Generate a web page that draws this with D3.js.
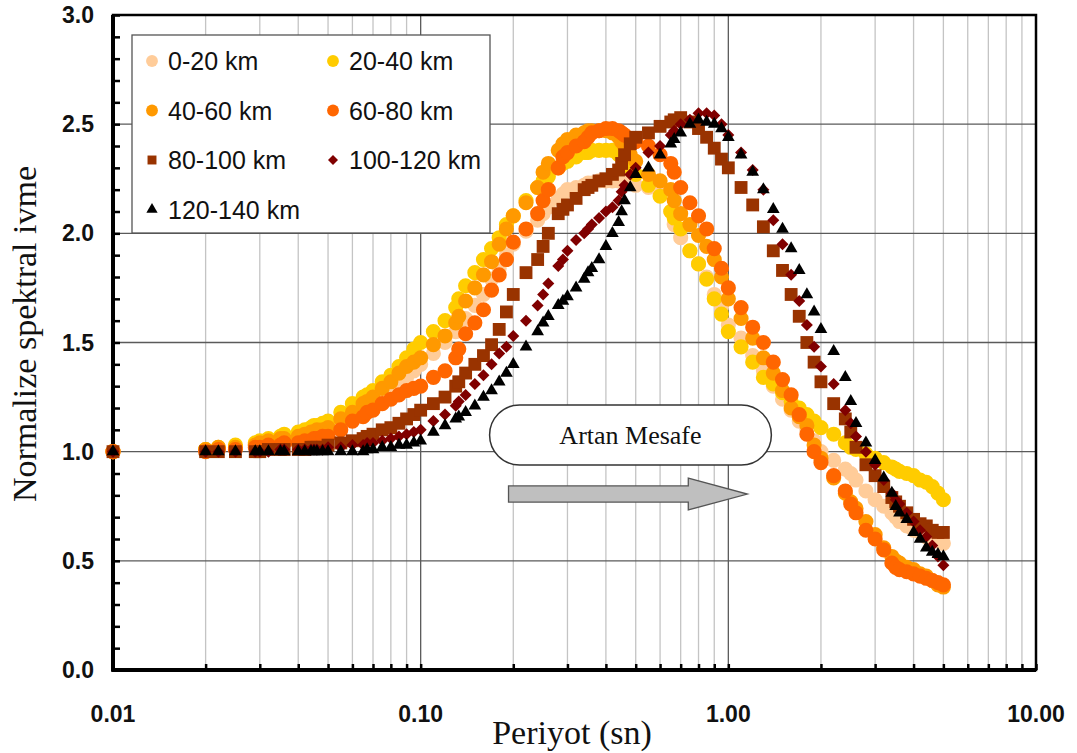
<!DOCTYPE html>
<html>
<head>
<meta charset="utf-8">
<title>Normalize spektral ivme</title>
<script src="https://cdn.jsdelivr.net/npm/d3@7"></script>
<style>
  body { margin: 0; background: #fff; }
  svg { display: block; }
</style>
</head>
<body>
<svg width="1077" height="753"></svg>
<script>
// periods (s)
const periods = [0.01,0.02,0.022,0.025,0.029,0.03,0.032,0.035,0.036,0.04,
  0.042,0.044,0.045,0.046,0.048,0.05,0.055,0.06,0.065,0.067,
  0.07,0.075,0.08,0.085,0.09,0.095,0.1,0.11,0.12,0.13,
  0.133,0.14,0.15,0.16,0.17,0.18,0.19,0.2,0.22,0.24,
  0.25,0.26,0.28,0.29,0.3,0.32,0.34,0.35,0.36,0.38,
  0.4,0.42,0.44,0.45,0.46,0.48,0.5,0.55,0.6,0.65,
  0.667,0.7,0.75,0.8,0.85,0.9,0.95,1.0,1.1,1.2,
  1.3,1.4,1.5,1.6,1.7,1.8,1.9,2.0,2.2,2.4,
  2.5,2.6,2.8,3.0,3.2,3.4,3.5,3.6,3.8,4.0,
  4.2,4.4,4.6,4.8,5.0];

const s0_20 = [1.00,1.01,1.01,1.02,1.03,1.03,1.04,1.05,1.05,1.06,
  1.07,1.07,1.08,1.08,1.09,1.09,1.13,1.16,1.19,1.20,
  1.22,1.25,1.28,1.31,1.34,1.37,1.40,1.45,1.50,1.55,
  1.57,1.61,1.67,1.72,1.79,1.84,1.90,1.95,2.01,2.06,
  2.09,2.12,2.16,2.18,2.20,2.21,2.22,2.23,2.23,2.24,
  2.24,2.24,2.24,2.24,2.23,2.23,2.22,2.21,2.18,2.10,
  2.04,1.98,1.92,1.86,1.80,1.72,1.66,1.58,1.52,1.44,
  1.37,1.30,1.24,1.19,1.14,1.10,1.05,1.00,0.96,0.92,
  0.90,0.87,0.82,0.78,0.75,0.72,0.70,0.68,0.66,0.64,
  0.63,0.61,0.60,0.59,0.58];

const s20_40 = [1.00,1.01,1.02,1.03,1.04,1.05,1.06,1.07,1.08,1.09,
  1.10,1.11,1.12,1.12,1.13,1.14,1.18,1.22,1.25,1.26,
  1.28,1.32,1.35,1.39,1.43,1.47,1.50,1.55,1.60,1.66,
  1.70,1.76,1.82,1.88,1.93,1.98,2.04,2.08,2.15,2.21,
  2.24,2.26,2.30,2.32,2.33,2.35,2.37,2.37,2.38,2.38,
  2.38,2.38,2.36,2.35,2.33,2.30,2.27,2.22,2.17,2.10,
  2.07,2.02,1.92,1.86,1.79,1.70,1.63,1.55,1.48,1.41,
  1.34,1.31,1.27,1.23,1.20,1.17,1.14,1.11,1.08,1.04,
  1.02,1.01,0.99,0.97,0.95,0.93,0.92,0.91,0.90,0.89,
  0.87,0.86,0.84,0.81,0.78];

const s40_60 = [1.00,1.01,1.02,1.02,1.03,1.04,1.05,1.06,1.06,1.07,
  1.08,1.09,1.09,1.10,1.10,1.11,1.15,1.18,1.22,1.23,
  1.25,1.29,1.32,1.36,1.39,1.41,1.43,1.49,1.53,1.59,
  1.62,1.69,1.75,1.81,1.87,1.95,2.02,2.08,2.14,2.21,
  2.28,2.32,2.38,2.41,2.43,2.45,2.46,2.47,2.47,2.47,
  2.47,2.46,2.44,2.42,2.40,2.36,2.33,2.27,2.24,2.20,
  2.15,2.09,2.04,1.99,1.94,1.88,1.80,1.70,1.61,1.52,
  1.43,1.36,1.28,1.20,1.16,1.12,1.03,0.97,0.88,0.81,
  0.77,0.74,0.68,0.62,0.56,0.52,0.50,0.49,0.47,0.46,
  0.44,0.43,0.41,0.39,0.38];

const s60_80 = [1.00,1.00,1.01,1.01,1.02,1.02,1.03,1.03,1.04,1.04,
  1.05,1.05,1.06,1.06,1.07,1.07,1.10,1.14,1.16,1.18,
  1.19,1.22,1.24,1.26,1.28,1.29,1.30,1.34,1.37,1.43,
  1.47,1.54,1.59,1.65,1.74,1.81,1.88,1.96,2.02,2.09,
  2.15,2.20,2.30,2.35,2.37,2.40,2.42,2.44,2.46,2.47,
  2.48,2.48,2.47,2.46,2.45,2.43,2.42,2.40,2.36,2.32,
  2.28,2.21,2.14,2.08,2.02,1.93,1.84,1.75,1.66,1.57,
  1.50,1.41,1.33,1.26,1.17,1.08,1.00,0.95,0.89,0.82,
  0.76,0.72,0.64,0.60,0.55,0.49,0.47,0.46,0.45,0.44,
  0.43,0.42,0.41,0.40,0.39];

const s80_100 = [1.00,1.00,1.00,1.00,1.00,1.00,1.01,1.01,1.01,1.01,
  1.01,1.02,1.02,1.02,1.02,1.03,1.04,1.05,1.06,1.07,
  1.08,1.10,1.11,1.13,1.15,1.17,1.19,1.22,1.25,1.30,
  1.32,1.36,1.40,1.44,1.49,1.56,1.64,1.72,1.82,1.88,
  1.94,2.00,2.09,2.11,2.13,2.16,2.20,2.21,2.22,2.24,
  2.25,2.27,2.29,2.32,2.36,2.41,2.44,2.46,2.49,2.51,
  2.52,2.53,2.51,2.48,2.44,2.39,2.34,2.30,2.21,2.13,
  2.03,1.92,1.83,1.72,1.62,1.50,1.41,1.32,1.22,1.15,
  1.09,1.02,0.94,0.89,0.84,0.79,0.77,0.75,0.72,0.69,
  0.67,0.66,0.64,0.63,0.63];

const s100_120 = [1.00,1.00,1.00,1.00,1.00,1.00,1.00,1.01,1.01,1.01,
  1.01,1.01,1.01,1.01,1.01,1.02,1.02,1.03,1.03,1.04,
  1.04,1.05,1.06,1.07,1.08,1.09,1.10,1.14,1.17,1.21,
  1.23,1.26,1.31,1.35,1.40,1.45,1.48,1.53,1.60,1.67,
  1.72,1.77,1.85,1.88,1.92,1.97,2.00,2.02,2.04,2.07,
  2.10,2.12,2.15,2.19,2.22,2.27,2.30,2.37,2.40,2.45,
  2.47,2.50,2.52,2.55,2.55,2.54,2.50,2.45,2.37,2.29,
  2.20,2.06,1.95,1.81,1.69,1.58,1.48,1.39,1.31,1.19,
  1.13,1.07,1.00,0.94,0.87,0.81,0.78,0.76,0.72,0.68,
  0.64,0.61,0.57,0.52,0.48];

const s120_140 = [1.00,1.00,1.00,1.00,1.00,1.00,1.00,1.00,1.00,1.00,
  1.00,1.00,1.00,1.00,1.00,1.00,1.00,1.00,1.00,1.01,
  1.01,1.02,1.02,1.03,1.03,1.04,1.05,1.09,1.12,1.15,
  1.16,1.18,1.21,1.25,1.28,1.32,1.36,1.40,1.48,1.55,
  1.59,1.62,1.67,1.69,1.71,1.75,1.79,1.82,1.84,1.88,
  1.94,2.00,2.05,2.10,2.15,2.21,2.27,2.30,2.36,2.41,
  2.43,2.46,2.50,2.52,2.51,2.50,2.48,2.44,2.36,2.28,
  2.20,2.11,2.02,1.93,1.83,1.72,1.64,1.56,1.46,1.34,
  1.23,1.13,1.04,0.96,0.88,0.81,0.75,0.72,0.69,0.63,
  0.60,0.56,0.54,0.53,0.52];

const seriesNames = ["0-20 km", "20-40 km", "40-60 km", "60-80 km", "80-100 km", "100-120 km", "120-140 km"];
const seriesValues = [s0_20, s20_40, s40_60, s60_80, s80_100, s100_120, s120_140];

const xTicks = [0.01, 0.1, 1, 10];
const xTickLabels = ["0.01", "0.10", "1.00", "10.00"];
const yTicks = [0, 0.5, 1, 1.5, 2, 2.5, 3];
const yTickLabels = ["0.0", "0.5", "1.0", "1.5", "2.0", "2.5", "3.0"];

const xTitle = "Periyot (sn)";
const yTitle = "Normalize spektral ivme";
const noteText = "Artan Mesafe";

// marker styles per series
const diamond = {
  draw(ctx, size) {
    const r = Math.sqrt(size / 2);
    ctx.moveTo(0, -r); ctx.lineTo(r, 0); ctx.lineTo(0, r); ctx.lineTo(-r, 0); ctx.closePath();
  }
};
const styles = [
  { color: "#FFCC99", shape: d3.symbolCircle, size: 180, lsize: 110 },
  { color: "#FFCC00", shape: d3.symbolCircle, size: 180, lsize: 110 },
  { color: "#FF9900", shape: d3.symbolCircle, size: 180, lsize: 110 },
  { color: "#FF6600", shape: d3.symbolCircle, size: 180, lsize: 110 },
  { color: "#993300", shape: d3.symbolSquare, size: 165, lsize: 80 },
  { color: "#800000", shape: diamond, size: 72, lsize: 50 },
  { color: "#000000", shape: d3.symbolTriangle, size: 70, lsize: 55 }
];

const svg = d3.select("svg");
svg.append("rect").attr("width", 1077).attr("height", 753).attr("fill", "#fff");

const x = d3.scaleLog().domain([0.01, 10]).range([113, 1036]);
const y = d3.scaleLinear().domain([0, 3]).range([670, 15]);

// minor log positions
const minorX = [];
[0.01, 0.1, 1].forEach(function(dec) {
  for (let k = 2; k <= 9; k++) minorX.push(dec * k);
});
const minorY = d3.range(1, 30).map(d => d / 10).filter(d => Math.abs(d * 2 - Math.round(d * 2)) > 1e-6);

const grid = svg.append("g");
grid.selectAll(".vminor").data(minorX).join("line")
  .attr("x1", d => x(d)).attr("x2", d => x(d))
  .attr("y1", y(0)).attr("y2", y(3))
  .attr("stroke", "#c4c4c4").attr("stroke-width", 1.3);
grid.selectAll(".vmajor").data([0.1, 1]).join("line")
  .attr("class", "vmajor")
  .attr("x1", d => x(d)).attr("x2", d => x(d))
  .attr("y1", y(0)).attr("y2", y(3))
  .attr("stroke", "#5a5a5a").attr("stroke-width", 1.3);
grid.selectAll(".hmajor").data(yTicks.slice(1, -1)).join("line")
  .attr("class", "hmajor")
  .attr("x1", x(0.01)).attr("x2", x(10))
  .attr("y1", d => y(d)).attr("y2", d => y(d))
  .attr("stroke", "#5a5a5a").attr("stroke-width", 1.3);

// axes: ticks inward
const xAxis = d3.axisBottom(x).tickValues(minorX.concat(xTicks)).tickSize(-6).tickFormat("");
svg.append("g").attr("transform", `translate(0,${y(0)})`).call(xAxis)
  .call(g => g.select(".domain").remove())
  .call(g => g.selectAll("line").attr("stroke", "#000").attr("stroke-width", 2.5));
const yAxis = d3.axisLeft(y).tickValues(minorY.concat(yTicks)).tickSize(-7).tickFormat("");
svg.append("g").attr("transform", `translate(${x(0.01)},0)`).call(yAxis)
  .call(g => g.select(".domain").remove())
  .call(g => g.selectAll("line").attr("stroke", "#000").attr("stroke-width", 2.5));

// frame
svg.append("rect")
  .attr("x", x(0.01)).attr("y", y(3))
  .attr("width", x(10) - x(0.01)).attr("height", y(0) - y(3))
  .attr("fill", "none").attr("stroke", "#000").attr("stroke-width", 2.5);
svg.append("line").attr("x1", x(0.01)).attr("x2", x(0.01)).attr("y1", y(3)).attr("y2", y(0) + 1.5)
  .attr("stroke", "#000").attr("stroke-width", 4);
svg.append("line").attr("x1", x(0.01) - 1.5).attr("x2", x(10)).attr("y1", y(0)).attr("y2", y(0))
  .attr("stroke", "#000").attr("stroke-width", 4);

// tick labels
svg.append("g").selectAll("text").data(xTicks).join("text")
  .attr("x", d => x(d)).attr("y", 722)
  .attr("text-anchor", "middle")
  .attr("font-family", "'Liberation Sans', Arial, sans-serif")
  .attr("font-weight", "bold").attr("font-size", 23).attr("fill", "#111")
  .text((d, i) => xTickLabels[i]);
svg.append("g").selectAll("text").data(yTicks).join("text")
  .attr("x", 94).attr("y", d => y(d) + 8)
  .attr("text-anchor", "end")
  .attr("font-family", "'Liberation Sans', Arial, sans-serif")
  .attr("font-weight", "bold").attr("font-size", 23).attr("fill", "#111")
  .text((d, i) => yTickLabels[i]);

// axis titles
svg.append("text")
  .attr("x", 572).attr("y", 744)
  .attr("text-anchor", "middle")
  .attr("font-family", "'Liberation Serif', 'Times New Roman', serif")
  .attr("font-size", 34).attr("fill", "#111")
  .text(xTitle);
svg.append("text")
  .attr("transform", "translate(36,334) rotate(-90)")
  .attr("text-anchor", "middle")
  .attr("font-family", "'Liberation Serif', 'Times New Roman', serif")
  .attr("font-size", 34).attr("fill", "#111")
  .text(yTitle);

// annotation: pill + arrow, placed in data space
const note = { t0: 0.1675, t1: 1.38, vTop: 1.214, vBot: 0.939 };
const arrow = { t0: 0.193, tHead: 0.741, t1: 1.153, v: 0.806, shaft: 0.037, head: 0.073 };
const pillH = y(note.vBot) - y(note.vTop);
svg.append("rect")
  .attr("x", x(note.t0)).attr("y", y(note.vTop))
  .attr("width", x(note.t1) - x(note.t0)).attr("height", pillH)
  .attr("rx", pillH / 2).attr("ry", pillH / 2)
  .attr("fill", "#fff").attr("stroke", "#333").attr("stroke-width", 1.5);
svg.append("text")
  .attr("x", (x(note.t0) + x(note.t1)) / 2).attr("y", (y(note.vTop) + y(note.vBot)) / 2 + 9)
  .attr("text-anchor", "middle")
  .attr("font-family", "'Liberation Serif', 'Times New Roman', serif")
  .attr("font-size", 26).attr("fill", "#111")
  .text(noteText);
const ap = d3.path();
ap.moveTo(x(arrow.t0), y(arrow.v + arrow.shaft));
ap.lineTo(x(arrow.tHead), y(arrow.v + arrow.shaft));
ap.lineTo(x(arrow.tHead), y(arrow.v + arrow.head));
ap.lineTo(x(arrow.t1), y(arrow.v));
ap.lineTo(x(arrow.tHead), y(arrow.v - arrow.head));
ap.lineTo(x(arrow.tHead), y(arrow.v - arrow.shaft));
ap.lineTo(x(arrow.t0), y(arrow.v - arrow.shaft));
ap.closePath();
svg.append("path").attr("d", ap.toString())
  .attr("fill", "#bfbfbf").attr("stroke", "#555").attr("stroke-width", 1.3);

// data markers
seriesValues.forEach(function(vals, si) {
  const st = styles[si];
  const sym = d3.symbol().type(st.shape).size(st.size);
  svg.append("g").selectAll("path")
    .data(periods.map((p, i) => ({ p: p, v: vals[i] })))
    .join("path")
    .attr("transform", d => `translate(${x(d.p)},${y(d.v)})`)
    .attr("d", sym)
    .attr("fill", st.color);
});

// legend
const legend = svg.append("g");
legend.append("rect")
  .attr("x", 132).attr("y", 35).attr("width", 358).attr("height", 198)
  .attr("fill", "#fff").attr("stroke", "#555").attr("stroke-width", 1.3);
const items = legend.selectAll("g.item").data(seriesNames).join("g")
  .attr("class", "item")
  .attr("transform", (d, i) => `translate(${i % 2 === 0 ? 152 : 333},${61 + Math.floor(i / 2) * 49.5})`);
items.append("path")
  .attr("d", (d, i) => d3.symbol().type(styles[i].shape).size(styles[i].lsize)())
  .attr("fill", (d, i) => styles[i].color);
items.append("text")
  .attr("x", 16).attr("y", 9)
  .attr("font-family", "'Liberation Sans', Arial, sans-serif")
  .attr("font-size", 25).attr("fill", "#111")
  .text(d => d);
</script>
</body>
</html>
